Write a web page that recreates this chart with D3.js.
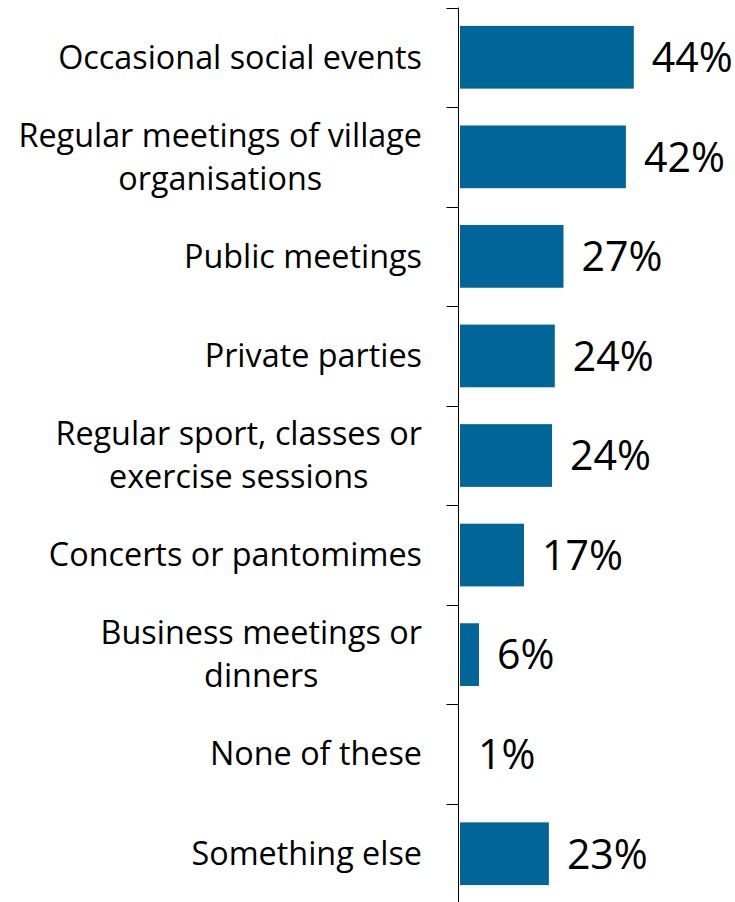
<!DOCTYPE html>
<html>
<head>
<meta charset="utf-8">
<script src="https://cdn.jsdelivr.net/npm/d3@7"></script>
<style>
  html, body { margin: 0; padding: 0; background: #fff; }
  svg { display: block; }
  text { font-variant-ligatures: none; }
</style>
</head>
<body>
<svg id="chart" width="735" height="902"></svg>
<script>
const categories = [
  ["Occasional social events"],
  ["Regular meetings of village", "organisations"],
  ["Public meetings"],
  ["Private parties"],
  ["Regular sport, classes or", "exercise sessions"],
  ["Concerts or pantomimes"],
  ["Business meetings or", "dinners"],
  ["None of these"],
  ["Something else"]
];
const values = [44, 42, 26.2, 24, 23.3, 16.2, 4.8, 0, 22.5];
const valueLabels = ["44%", "42%", "27%", "24%", "24%", "17%", "6%", "1%", "23%"];

const W = 735, H = 902;
const axisX = 458.5;
const labelRight = 422;
const svg = d3.select("#chart");
const font = "'Open Sans', sans-serif";

function measure(str, size) {
  const t = svg.append("text").attr("font-family", font).attr("font-size", size).text(str);
  const w = t.node().getComputedTextLength();
  t.remove();
  return w;
}
// fit font sizes to the reference's text widths
const catSize = 30 * 364 / measure("Occasional social events", 30);
const valSize = 44 * 81 / measure("44%", 44);

const keys = categories.map((c, i) => i);
const y = d3.scaleBand().domain(keys).range([7.5, 903.5]).paddingInner(0.37).paddingOuter(0.185);
const x = d3.scaleLinear().domain([0, 50]).range([460, 460 + 197.5]);

// bars
svg.append("g").selectAll("rect").data(values).join("rect")
  .attr("x", x(0))
  .attr("y", (d, i) => y(i))
  .attr("width", d => x(d) - x(0))
  .attr("height", y.bandwidth())
  .attr("fill", "#006699");

// axis with ticks at band boundaries
const step = y.step();
const boundaries = d3.range(categories.length + 1).map(i => 7.5 + i * step);
const ax = svg.append("g");
ax.append("line").attr("x1", axisX).attr("x2", axisX).attr("y1", 7.5).attr("y2", H)
  .attr("stroke", "#000").attr("stroke-width", 1);
ax.selectAll("line.tick").data(boundaries).join("line").attr("class", "tick")
  .attr("x1", axisX - 12).attr("x2", axisX)
  .attr("y1", d => Math.round(d) + 0.5).attr("y2", d => Math.round(d) + 0.5)
  .attr("stroke", "#000").attr("stroke-width", 1);

// category labels: block right-aligned, lines centred within the block
const lineGap = 43;
const labG = svg.append("g");
categories.forEach((lines, i) => {
  const cy = y(i) + y.bandwidth() / 2;
  const maxW = d3.max(lines, ln => measure(ln, catSize));
  const cx = labelRight - maxW / 2;
  const t = labG.append("text")
    .attr("text-anchor", "middle")
    .attr("font-family", font)
    .attr("font-size", catSize)
    .attr("fill", "#000");
  lines.forEach((ln, j) => {
    const off = (j - (lines.length - 1) / 2) * lineGap;
    t.append("tspan").attr("x", cx).attr("y", cy + off).attr("dy", "0.35em").text(ln);
  });
});

// value labels
svg.append("g").selectAll("text").data(values).join("text")
  .attr("x", d => x(d) + 18)
  .attr("y", (d, i) => y(i) + y.bandwidth() / 2)
  .attr("dy", "0.36em")
  .attr("font-family", font)
  .attr("font-size", valSize)
  .attr("fill", "#000")
  .text((d, i) => valueLabels[i]);
</script>
</body>
</html>
